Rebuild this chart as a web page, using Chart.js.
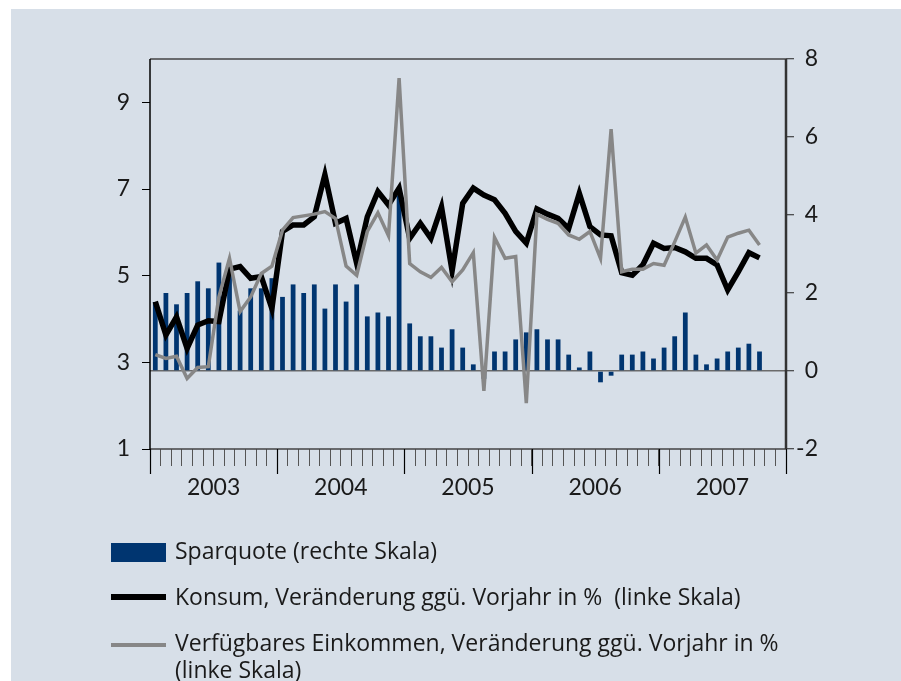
<!DOCTYPE html>
<html lang="de">
<head>
<meta charset="utf-8">
<title>Sparquote, Konsum und verfügbares Einkommen</title>
<script src="https://cdn.jsdelivr.net/npm/chart.js@4.4.1/dist/chart.umd.min.js"></script>
<style>
  html, body { margin: 0; padding: 0; background: #fff; }
  body { width: 901px; height: 681px; position: relative; overflow: hidden;
         font-family: "Open Sans", Lato, sans-serif; color: #1a1a1a; }
  #panel { position: absolute; left: 11px; top: 9px; right: 0; bottom: 0; background: #d7dfe8; }
  #grafik { position: absolute; left: 0; top: 0; }
  .symbol { position: absolute; left: 111px; width: 55px; }
  .text { position: absolute; left: 175px; font-size: 23px; line-height: 27px; white-space: nowrap; }
</style>
</head>
<body>
<div id="panel"></div>
<canvas id="grafik" width="901" height="681"></canvas>

<div class="symbol" style="top:543px;height:19px;background:#003570"></div>
<div class="text" style="top:537px">Sparquote (rechte Skala)</div>
<div class="symbol" style="top:594px;height:6px;background:#000"></div>
<div class="text" style="top:583px">Konsum, Veränderung ggü. Vorjahr in %&nbsp; (linke Skala)</div>
<div class="symbol" style="top:643px;height:4px;background:#878787"></div>
<div class="text" style="top:629px">Verfügbares Einkommen, Veränderung ggü. Vorjahr in %<br>(linke Skala)</div>

<script>
// Kategorien (Monate)
const monate = [
  "Jan 03", "Feb 03", "Mär 03", "Apr 03", "Mai 03", "Jun 03", "Jul 03", "Aug 03", "Sep 03", "Okt 03", "Nov 03", "Dez 03",
  "Jan 04", "Feb 04", "Mär 04", "Apr 04", "Mai 04", "Jun 04", "Jul 04", "Aug 04", "Sep 04", "Okt 04", "Nov 04", "Dez 04",
  "Jan 05", "Feb 05", "Mär 05", "Apr 05", "Mai 05", "Jun 05", "Jul 05", "Aug 05", "Sep 05", "Okt 05", "Nov 05", "Dez 05",
  "Jan 06", "Feb 06", "Mär 06", "Apr 06", "Mai 06", "Jun 06", "Jul 06", "Aug 06", "Sep 06", "Okt 06", "Nov 06", "Dez 06",
  "Jan 07", "Feb 07", "Mär 07", "Apr 07", "Mai 07", "Jun 07", "Jul 07", "Aug 07", "Sep 07", "Okt 07", "Nov 07", "Dez 07"
];
const jahre = ["2003", "2004", "2005", "2006", "2007"];

// Sparquote (rechte Skala)
const sparquote = [
  1.77, 2.0, 1.71, 2.0, 2.30, 2.12, 2.78, 2.5, 1.55, 2.12, 2.12, 2.38,
  1.90, 2.22, 2.0, 2.22, 1.60, 2.22, 1.78, 2.22, 1.40, 1.50, 1.40, 4.5,
  1.22, 0.89, 0.89, 0.60, 1.07, 0.60, 0.17, -0.2, 0.50, 0.50, 0.81, 0.99,
  1.07, 0.81, 0.81, 0.42, 0.09, 0.50, -0.29, -0.12, 0.42, 0.42, 0.50, 0.32,
  0.60, 0.89, 1.50, 0.42, 0.17, 0.32, 0.50, 0.60, 0.70, 0.50
];

// Konsum, Veränderung ggü. Vorjahr in % (linke Skala)
const konsum = [
  4.40, 3.63, 4.05, 3.32, 3.86, 3.96, 3.94, 5.15, 5.21, 4.94, 4.98, 4.24,
  6.02, 6.17, 6.17, 6.36, 7.33, 6.21, 6.32, 5.28, 6.36, 6.94, 6.63, 7.02,
  5.86, 6.21, 5.86, 6.59, 5.11, 6.67, 7.02, 6.86, 6.75, 6.44, 6.02, 5.75,
  6.54, 6.42, 6.32, 6.09, 6.90, 6.13, 5.94, 5.92, 5.07, 5.01, 5.25, 5.75,
  5.63, 5.65, 5.55, 5.40, 5.40, 5.25, 4.67, 5.09, 5.53, 5.41
];

// Verfügbares Einkommen, Veränderung ggü. Vorjahr in % (linke Skala)
const einkommen = [
  3.18, 3.09, 3.14, 2.63, 2.88, 2.90, 4.51, 5.40, 4.17, 4.51, 5.05, 5.22,
  6.05, 6.34, 6.38, 6.42, 6.48, 6.32, 5.22, 5.01, 6.02, 6.45, 5.92, 9.56,
  5.28, 5.09, 4.96, 5.19, 4.86, 5.13, 5.53, 2.34, 5.88, 5.40, 5.44, 2.06,
  6.42, 6.30, 6.21, 5.94, 5.84, 6.02, 5.40, 8.38, 5.09, 5.15, 5.15, 5.28,
  5.24, 5.78, 6.35, 5.52, 5.71, 5.36, 5.89, 5.98, 6.05, 5.71
];

// Achsenbeschriftungen
const ticksLinks = [1, 3, 5, 7, 9];
const ticksRechts = [-2, 0, 2, 4, 6, 8];

const schrift = { family: "Lato, 'Open Sans', sans-serif", size: 23 };

// Rahmen, Jahresstriche und Jahreszahlen
const rahmen = {
  id: "rahmen",
  afterDraw(chart) {
    const c = chart.ctx;
    const a = chart.chartArea;
    const x = chart.scales.x;
    const halb = (x.getPixelForValue(1) - x.getPixelForValue(0)) / 2;
    c.save();
    c.strokeStyle = "#444";
    c.lineWidth = 1.5;
    c.beginPath();
    c.moveTo(a.left, a.top); c.lineTo(a.right, a.top);
    c.moveTo(a.left, a.bottom); c.lineTo(a.right, a.bottom);
    c.stroke();
    c.strokeStyle = "#000";
    c.beginPath();
    c.moveTo(a.left, a.top); c.lineTo(a.left, a.bottom);
    c.stroke();
    c.strokeStyle = "#333";
    c.lineWidth = 2.5;
    c.beginPath();
    c.moveTo(a.right, a.top); c.lineTo(a.right, a.bottom);
    c.stroke();

    // lange Striche an den Jahresgrenzen
    c.strokeStyle = "#000";
    c.lineWidth = 1.2;
    for (let j = 0; j <= jahre.length; j++) {
      const px = Math.round(x.getPixelForValue(j * 12) - halb) + 0.5;
      c.beginPath();
      c.moveTo(px, a.bottom);
      c.lineTo(px, a.bottom + 25);
      c.stroke();
    }
    c.fillStyle = "#1a1a1a";
    c.font = schrift.size + "px " + schrift.family;
    c.textAlign = "center";
    c.textBaseline = "middle";
    jahre.forEach((j, i) => {
      const px = x.getPixelForValue(i * 12 + 6) - halb;
      c.fillText(j, px, a.bottom + 39);
    });
    c.restore();
  }
};

const grafik = document.getElementById("grafik").getContext("2d");
new Chart(grafik, {
  data: {
    labels: monate,
    datasets: [
      {
        type: "line",
        label: "Verfügbares Einkommen, Veränderung ggü. Vorjahr in % (linke Skala)",
        data: einkommen,
        yAxisID: "y",
        borderColor: "#878787",
        borderWidth: 3.5,
        borderJoinStyle: "miter",
        pointRadius: 0,
        order: 1
      },
      {
        type: "line",
        label: "Konsum, Veränderung ggü. Vorjahr in % (linke Skala)",
        data: konsum,
        yAxisID: "y",
        borderColor: "#000",
        borderWidth: 5.5,
        borderJoinStyle: "miter",
        pointRadius: 0,
        order: 2
      },
      {
        type: "bar",
        label: "Sparquote (rechte Skala)",
        data: sparquote,
        yAxisID: "y1",
        backgroundColor: "#003570",
        barPercentage: 0.45,
        categoryPercentage: 1,
        order: 3
      }
    ]
  },
  options: {
    responsive: false,
    animation: false,
    layout: { padding: { top: 59, right: 83, bottom: 0, left: 0 } },
    plugins: { legend: { display: false }, tooltip: { enabled: false } },
    scales: {
      x: {
        type: "category",
        offset: true,
        grid: { offset: true, drawOnChartArea: false, drawTicks: true, tickLength: 17, tickColor: "#555", tickWidth: 1 },
        border: { display: false },
        ticks: { display: false },
        afterFit(s) { s.height = 232; }
      },
      y: {
        position: "left",
        min: 1,
        max: 10,
        afterBuildTicks(s) { s.ticks = ticksLinks.map(v => ({ value: v })); },
        grid: { drawOnChartArea: false, tickLength: 8, tickColor: "#000", tickWidth: 1 },
        border: { display: false },
        ticks: { padding: 12, color: "#1a1a1a", font: schrift },
        afterFit(s) { s.width = 150; }
      },
      y1: {
        position: "right",
        min: -2,
        max: 8,
        afterBuildTicks(s) { s.ticks = ticksRechts.map(v => ({ value: v })); },
        grid: {
          drawOnChartArea: true,
          color: c => (c.tick && c.tick.value === 0 ? "#6b6b6b" : "rgba(0,0,0,0)"),
          lineWidth: 1.5,
          tickColor: "#222",
          tickLength: 8,
          tickWidth: 1
        },
        border: { display: false },
        ticks: { crossAlign: "far", color: "#1a1a1a", font: schrift },
        afterFit(s) { s.width = 32; }
      }
    }
  },
  plugins: [rahmen]
});
</script>
</body>
</html>
